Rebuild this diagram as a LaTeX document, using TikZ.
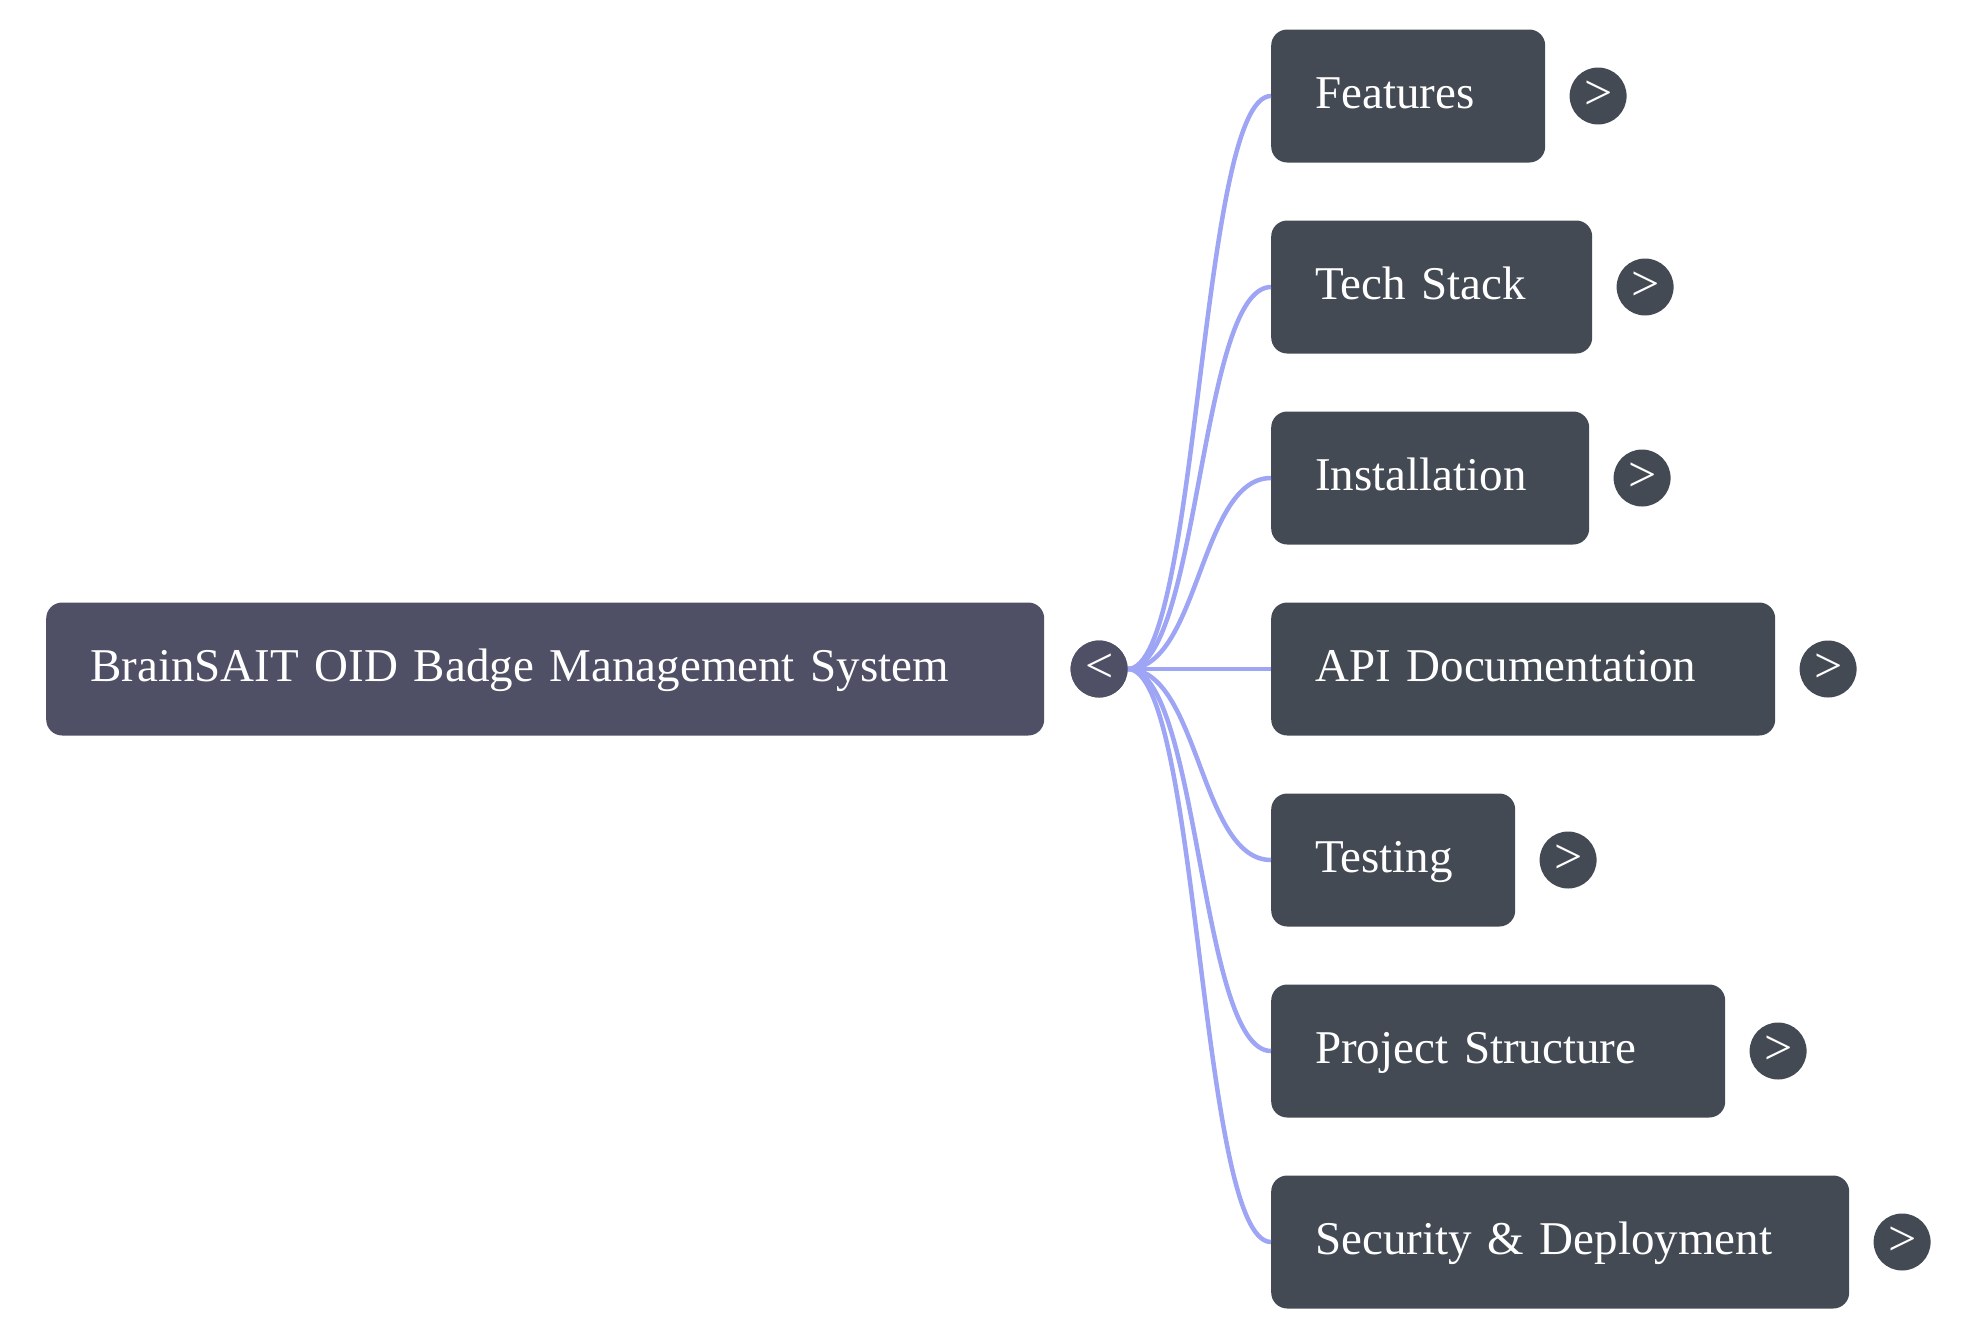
\documentclass[tikz,border=0pt]{standalone}
\usepackage{fontspec}
\setmainfont{Liberation Serif}
\usetikzlibrary{calc,positioning}
\definecolor{rootfill}{HTML}{4F5066}
\definecolor{leaffill}{HTML}{434A54}
\definecolor{linkblue}{HTML}{9DA5F4}

\begin{document}
\begin{tikzpicture}[x=1pt,y=-1pt,
    box/.style={fill=leaffill,rounded corners=16pt,minimum height=133pt,inner xsep=44pt,text height=34pt,text depth=10pt,anchor=west,text=white,align=left,font=\fontsize{47}{54}\selectfont},
    toggle/.style={circle,fill=leaffill,minimum size=57pt,inner sep=0pt,text=white,font=\fontsize{50}{50}\selectfont},
    link/.style={line width=4.5pt,linkblue}]
    \useasboundingbox (0,0) rectangle (1973,1339);

    \node[box,fill=rootfill,text width=910pt] (root) at (46,669) {BrainSAIT OID Badge Management System};
    \node[toggle,fill=rootfill,right=26pt of root] (rt) {};

    \foreach \y/\w/\i/\t in {96/186/1/Features,287/233/2/Tech Stack,478/230/3/Installation,669/416/4/API Documentation,860/156/5/Testing,1051/366/6/Project Structure,1242/490/7/Security \& Deployment} {
        \node[box,text width=\w pt] (c\i) at (1271,\y) {\t};
        \node[toggle,right=24pt of c\i] (t\i) {\raisebox{2pt}{>}};
        \coordinate (m\i) at ($(rt.east)!.5!(c\i.west)$);
        \draw[link] (rt.east) .. controls (m\i |- rt.east) and (m\i |- c\i.west) .. (c\i.west);}

    % collapse toggle drawn over the links
    \node[toggle,fill=rootfill] at (rt) {\raisebox{2pt}{<}};
\end{tikzpicture}
\end{document}
